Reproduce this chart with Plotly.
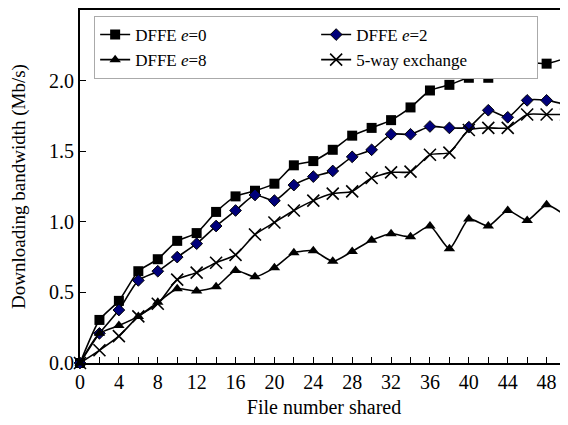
import plotly.graph_objects as go

files = [0, 2, 4, 6, 8, 10, 12, 14, 16, 18, 20, 22, 24, 26, 28, 30, 32, 34, 36, 38, 40, 42, 44, 46, 48, 50]
dffe_e0 = [0, 0.305, 0.44, 0.65, 0.735, 0.865, 0.92, 1.07, 1.18, 1.22, 1.27, 1.40, 1.43,
           1.51, 1.61, 1.665, 1.72, 1.81, 1.93, 1.97, 2.02, 2.02, 2.11, 2.13, 2.12, 2.16]
dffe_e2 = [0, 0.21, 0.375, 0.585, 0.65, 0.75, 0.845, 0.97, 1.08, 1.19, 1.15, 1.26, 1.32,
           1.36, 1.46, 1.51, 1.62, 1.62, 1.675, 1.665, 1.67, 1.79, 1.74, 1.86, 1.86, 1.83]
dffe_e8 = [0, 0.21, 0.265, 0.33, 0.43, 0.525, 0.51, 0.54, 0.655, 0.61, 0.675, 0.78, 0.795,
           0.72, 0.79, 0.87, 0.915, 0.895, 0.97, 0.81, 1.02, 0.97, 1.08, 1.01, 1.12, 1.04]
five_way = [0, 0.09, 0.19, 0.33, 0.42, 0.59, 0.64, 0.71, 0.766, 0.91, 0.995, 1.08, 1.15,
            1.20, 1.215, 1.31, 1.35, 1.355, 1.475, 1.49, 1.65, 1.665, 1.665, 1.76, 1.76, 1.76]

FONT = "Liberation Serif"
fig = go.Figure()

def add(name, y, symbol, size, fill, lw=0):
    fig.add_trace(go.Scatter(
        x=files, y=y, name=name, mode="lines+markers",
        line=dict(color="black", width=1.6, shape="spline", smoothing=0.6),
        marker=dict(symbol=symbol, size=size, color=fill,
                    line=dict(color="black", width=lw)),
        cliponaxis=False,
    ))

add("DFFE <i>e</i>=0", dffe_e0, "square", 10, "black")
add("DFFE <i>e</i>=2", dffe_e2, "diamond", 9, "#00007a", 1)
add("DFFE <i>e</i>=8", dffe_e8, "triangle-up", 10, "black")
add("5-way exchange", five_way, "x-thin", 12, "black", 1.6)

# page body has an 8px margin, so the figure is sized to end at the window edge
fig.update_layout(
    width=560, height=417,
    margin=dict(l=72, r=0, t=2, b=62, autoexpand=False),
    paper_bgcolor="white", plot_bgcolor="white",
    font=dict(family=FONT, size=20, color="black"),
    showlegend=True,
    legend=dict(
        orientation="h", x=0.029, y=0.983, xanchor="left", yanchor="top",
        entrywidth=176, bgcolor="white", bordercolor="#aaaaaa", borderwidth=1,
        font=dict(family=FONT, size=17), tracegroupgap=0,
    ),
)
fig.update_xaxes(
    range=[0, 50.2], tickmode="linear", tick0=0, dtick=4,
    ticks="inside", ticklen=6, tickwidth=1, tickcolor="black",
    minor=dict(dtick=2, ticks="inside", ticklen=6, tickwidth=1, tickcolor="black"),
    showline=True, linecolor="black", linewidth=2, mirror=True,
    showgrid=False, zeroline=False, automargin=False,
    title=dict(text="File number shared", font=dict(family=FONT, size=20), standoff=8),
    tickfont=dict(family=FONT, size=20),
)
fig.update_yaxes(
    range=[0, 2.5], tickmode="linear", tick0=0, dtick=0.5, tickformat=".1f",
    ticks="inside", ticklen=6, tickwidth=1, tickcolor="black",
    showline=True, linecolor="black", linewidth=2,
    showgrid=False, zeroline=False, automargin=False,
    title=dict(text="Downloading bandwidth (Mb/s)", font=dict(family=FONT, size=19), standoff=27),
    tickfont=dict(family=FONT, size=20),
)

fig.write_html("out.html")
